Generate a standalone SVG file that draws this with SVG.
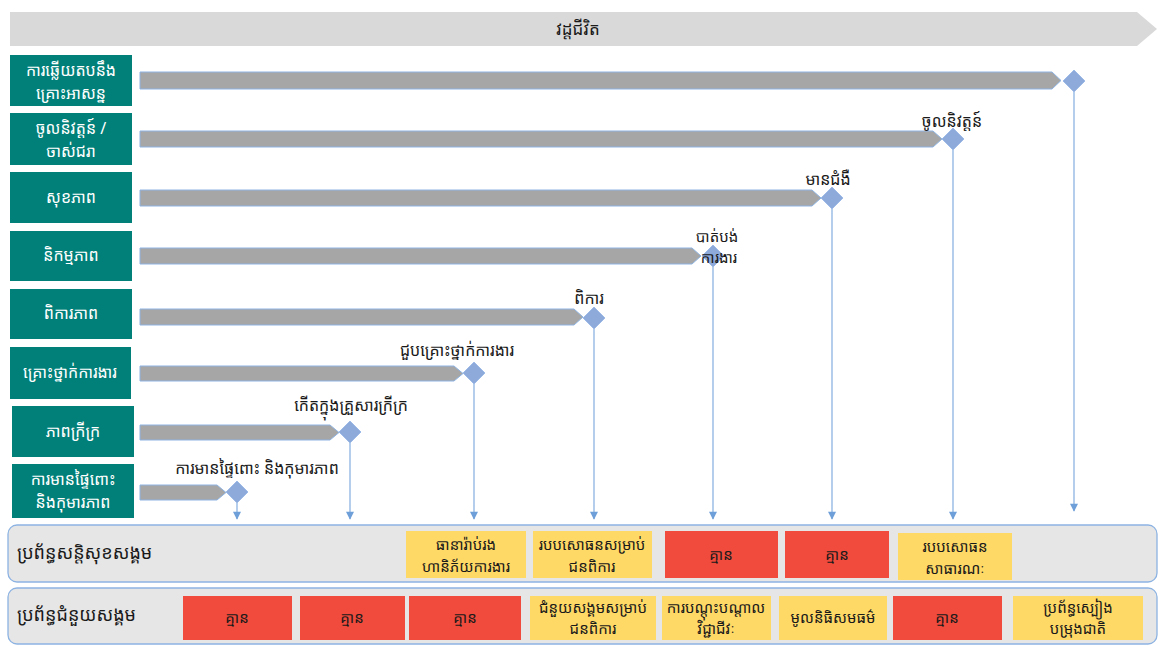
<svg xmlns="http://www.w3.org/2000/svg" width="1161" height="646" viewBox="0 0 1161 646">
<defs>
<style>
text{font-family:"Noto Sans Khmer","Khmer OS System","Khmer OS","Noto Sans","DejaVu Sans",sans-serif;}
.lbl{fill:#008079;}
.lt{fill:#ffffff;font-size:16px;text-anchor:middle;}
.bar{fill:#a6a6a6;stroke:#8db3e2;stroke-width:1;}
.dia{fill:#8eaadb;stroke:#9dbbe6;stroke-width:1;}
.dt{fill:#1a1a1a;font-size:16px;text-anchor:middle;}
.conn{stroke:#8db3e2;stroke-width:1.3;fill:none;}
.panel{fill:#e6e6e6;stroke:#8db3e2;stroke-width:1.3;}
.pt{fill:#1a1a1a;font-size:18px;}
.y{fill:#ffd966;}
.r{fill:#f04b3c;}
.bt{fill:#1a1a1a;font-size:15px;text-anchor:middle;}
</style>
<marker id="arr" viewBox="0 0 10 10" refX="9" refY="5" markerWidth="10" markerHeight="8" markerUnits="userSpaceOnUse" orient="auto">
<path d="M0,0 L10,5 L0,10 z" fill="#6e9fd8"/>
</marker>
</defs>
<rect width="1161" height="646" fill="#ffffff"/>

<g id="header">
<polygon points="10,12 1137,12 1157,29 1137,46 10,46" fill="#d9d9d9"/>
<text x="578" y="35" class="dt" style="font-size:17px">វដ្តជីវិត</text>
</g>

<g id="label-emergency"><rect class="lbl" x="10" y="55" width="122" height="51"/><text class="lt" x="71" y="76">ការឆ្លើយតបនឹង</text><text class="lt" x="71" y="99">គ្រោះអាសន្ន</text></g>
<g id="label-retire"><rect class="lbl" x="10" y="113" width="122" height="52"/><text class="lt" x="71" y="134">ចូលនិវត្តន៍ /</text><text class="lt" x="71" y="157">ចាស់ជរា</text></g>
<g id="label-health"><rect class="lbl" x="10" y="172" width="122" height="51"/><text class="lt" x="71" y="203">សុខភាព</text></g>
<g id="label-unemp"><rect class="lbl" x="10" y="231" width="122" height="50"/><text class="lt" x="71" y="261">និកម្មភាព</text></g>
<g id="label-disab"><rect class="lbl" x="10" y="289" width="122" height="50"/><text class="lt" x="71" y="319">ពិការភាព</text></g>
<g id="label-injury"><rect class="lbl" x="10" y="347" width="121" height="52"/><text class="lt" x="70" y="378">គ្រោះថ្នាក់ការងារ</text></g>
<g id="label-poverty"><rect class="lbl" x="12" y="406" width="122" height="51"/><text class="lt" x="73" y="437">ភាពក្រីក្រ</text></g>
<g id="label-preg"><rect class="lbl" x="12" y="464" width="122" height="54"/><text class="lt" x="73" y="485">ការមានផ្ទៃពោះ</text><text class="lt" x="73" y="508">និងកុមារភាព</text></g>

<g id="bars">
<polygon class="bar" points="140,72 1052,72 1061,80.5 1052,89 140,89"/>
<polygon class="bar" points="140,131 933,131 942,139 933,147 140,147"/>
<polygon class="bar" points="140,190 812,190 821,198 812,206 140,206"/>
<polygon class="bar" points="140,248 692,248 701,256 692,264 140,264"/>
<polygon class="bar" points="140,309 574,309 583,317 574,325 140,325"/>
<polygon class="bar" points="140,366 454,366 463,373.5 454,381 140,381"/>
<polygon class="bar" points="140,425 330,425 339,432.5 330,440 140,440"/>
<polygon class="bar" points="140,485 217,485 226,492.5 217,500 140,500"/>
</g>

<g id="connectors">
<line class="conn" x1="1074" y1="92" x2="1074" y2="511" marker-end="url(#arr)"/>
<line class="conn" x1="953" y1="150" x2="953" y2="519" marker-end="url(#arr)"/>
<line class="conn" x1="832" y1="209" x2="832" y2="519" marker-end="url(#arr)"/>
<line class="conn" x1="713" y1="267" x2="713" y2="519" marker-end="url(#arr)"/>
<line class="conn" x1="594" y1="329" x2="594" y2="519" marker-end="url(#arr)"/>
<line class="conn" x1="474" y1="384" x2="474" y2="519" marker-end="url(#arr)"/>
<line class="conn" x1="350" y1="443" x2="350" y2="519" marker-end="url(#arr)"/>
<line class="conn" x1="237" y1="503" x2="237" y2="519" marker-end="url(#arr)"/>
</g>

<g id="m-emergency"><polygon class="dia" points="1074,70 1085,81 1074,92 1063,81"/></g>
<g id="m-retire"><polygon class="dia" points="953,128 964,139 953,150 942,139"/><text class="dt" x="952" y="127">ចូលនិវត្តន៍</text></g>
<g id="m-ill"><polygon class="dia" points="832,187 843,198 832,209 821,198"/><text class="dt" x="828" y="185">មានជំងឺ</text></g>
<g id="m-jobloss"><polygon class="dia" points="713,245 724,256 713,267 702,256"/><text class="dt" x="717" y="242" style="font-size:15px">បាត់បង់</text><text class="dt" x="719" y="263" style="font-size:15px">ការងារ</text></g>
<g id="m-disab"><polygon class="dia" points="594,307 605,318 594,329 583,318"/><text class="dt" x="589" y="304">ពិការ</text></g>
<g id="m-injury"><polygon class="dia" points="474,362 485,373 474,384 463,373"/><text class="dt" x="457" y="356">ជួបគ្រោះថ្នាក់ការងារ</text></g>
<g id="m-poor"><polygon class="dia" points="350,421 361,432 350,443 339,432"/><text class="dt" x="351" y="411">កើតក្នុងគ្រួសារក្រីក្រ</text></g>
<g id="m-preg"><polygon class="dia" points="237,481 248,492 237,503 226,492"/><text class="dt" x="257" y="474">ការមានផ្ទៃពោះ និងកុមារភាព</text></g>

<g id="panel-insurance">
<rect class="panel" x="8" y="525" width="1149" height="57" rx="9"/>
<text class="pt" x="17" y="559">ប្រព័ន្ធសន្តិសុខសង្គម</text>
<rect class="y" x="406" y="531" width="120" height="47"/><text class="bt" x="466" y="550">ធានារ៉ាប់រង</text><text class="bt" x="466" y="572">ហានិភ័យការងារ</text>
<rect class="y" x="533" y="531" width="119" height="47"/><text class="bt" x="592" y="550">របបសោធនសម្រាប់</text><text class="bt" x="592" y="572">ជនពិការ</text>
<rect class="r" x="665" y="531" width="113" height="47"/><text class="bt" x="721" y="560">គ្មាន</text>
<rect class="r" x="785" y="531" width="104" height="47"/><text class="bt" x="837" y="560">គ្មាន</text>
<rect class="y" x="898" y="533" width="114" height="47"/><text class="bt" x="955" y="552">របបសោធន</text><text class="bt" x="955" y="574">សាធារណៈ</text>
</g>

<g id="panel-assistance">
<rect class="panel" x="8" y="588" width="1149" height="56" rx="9"/>
<text class="pt" x="17" y="621">ប្រព័ន្ធជំនួយសង្គម</text>
<rect class="r" x="183" y="596" width="109" height="44"/><text class="bt" x="237" y="623">គ្មាន</text>
<rect class="r" x="300" y="596" width="105" height="44"/><text class="bt" x="352" y="623">គ្មាន</text>
<rect class="r" x="409" y="596" width="112" height="44"/><text class="bt" x="465" y="623">គ្មាន</text>
<rect class="y" x="530" y="596" width="126" height="44"/><text class="bt" x="593" y="613">ជំនួយសង្គមសម្រាប់</text><text class="bt" x="593" y="634">ជនពិការ</text>
<rect class="y" x="662" y="596" width="109" height="44"/><text class="bt" x="716" y="613">ការបណ្តុះបណ្តាល</text><text class="bt" x="716" y="634">វិជ្ជាជីវៈ</text>
<rect class="y" x="779" y="596" width="108" height="44"/><text class="bt" x="833" y="623">មូលនិធិសមធម៌</text>
<rect class="r" x="893" y="596" width="109" height="44"/><text class="bt" x="947" y="623">គ្មាន</text>
<rect class="y" x="1013" y="596" width="130" height="44"/><text class="bt" x="1078" y="613">ប្រព័ន្ធស្បៀង</text><text class="bt" x="1078" y="634">បម្រុងជាតិ</text>
</g>
</svg>
